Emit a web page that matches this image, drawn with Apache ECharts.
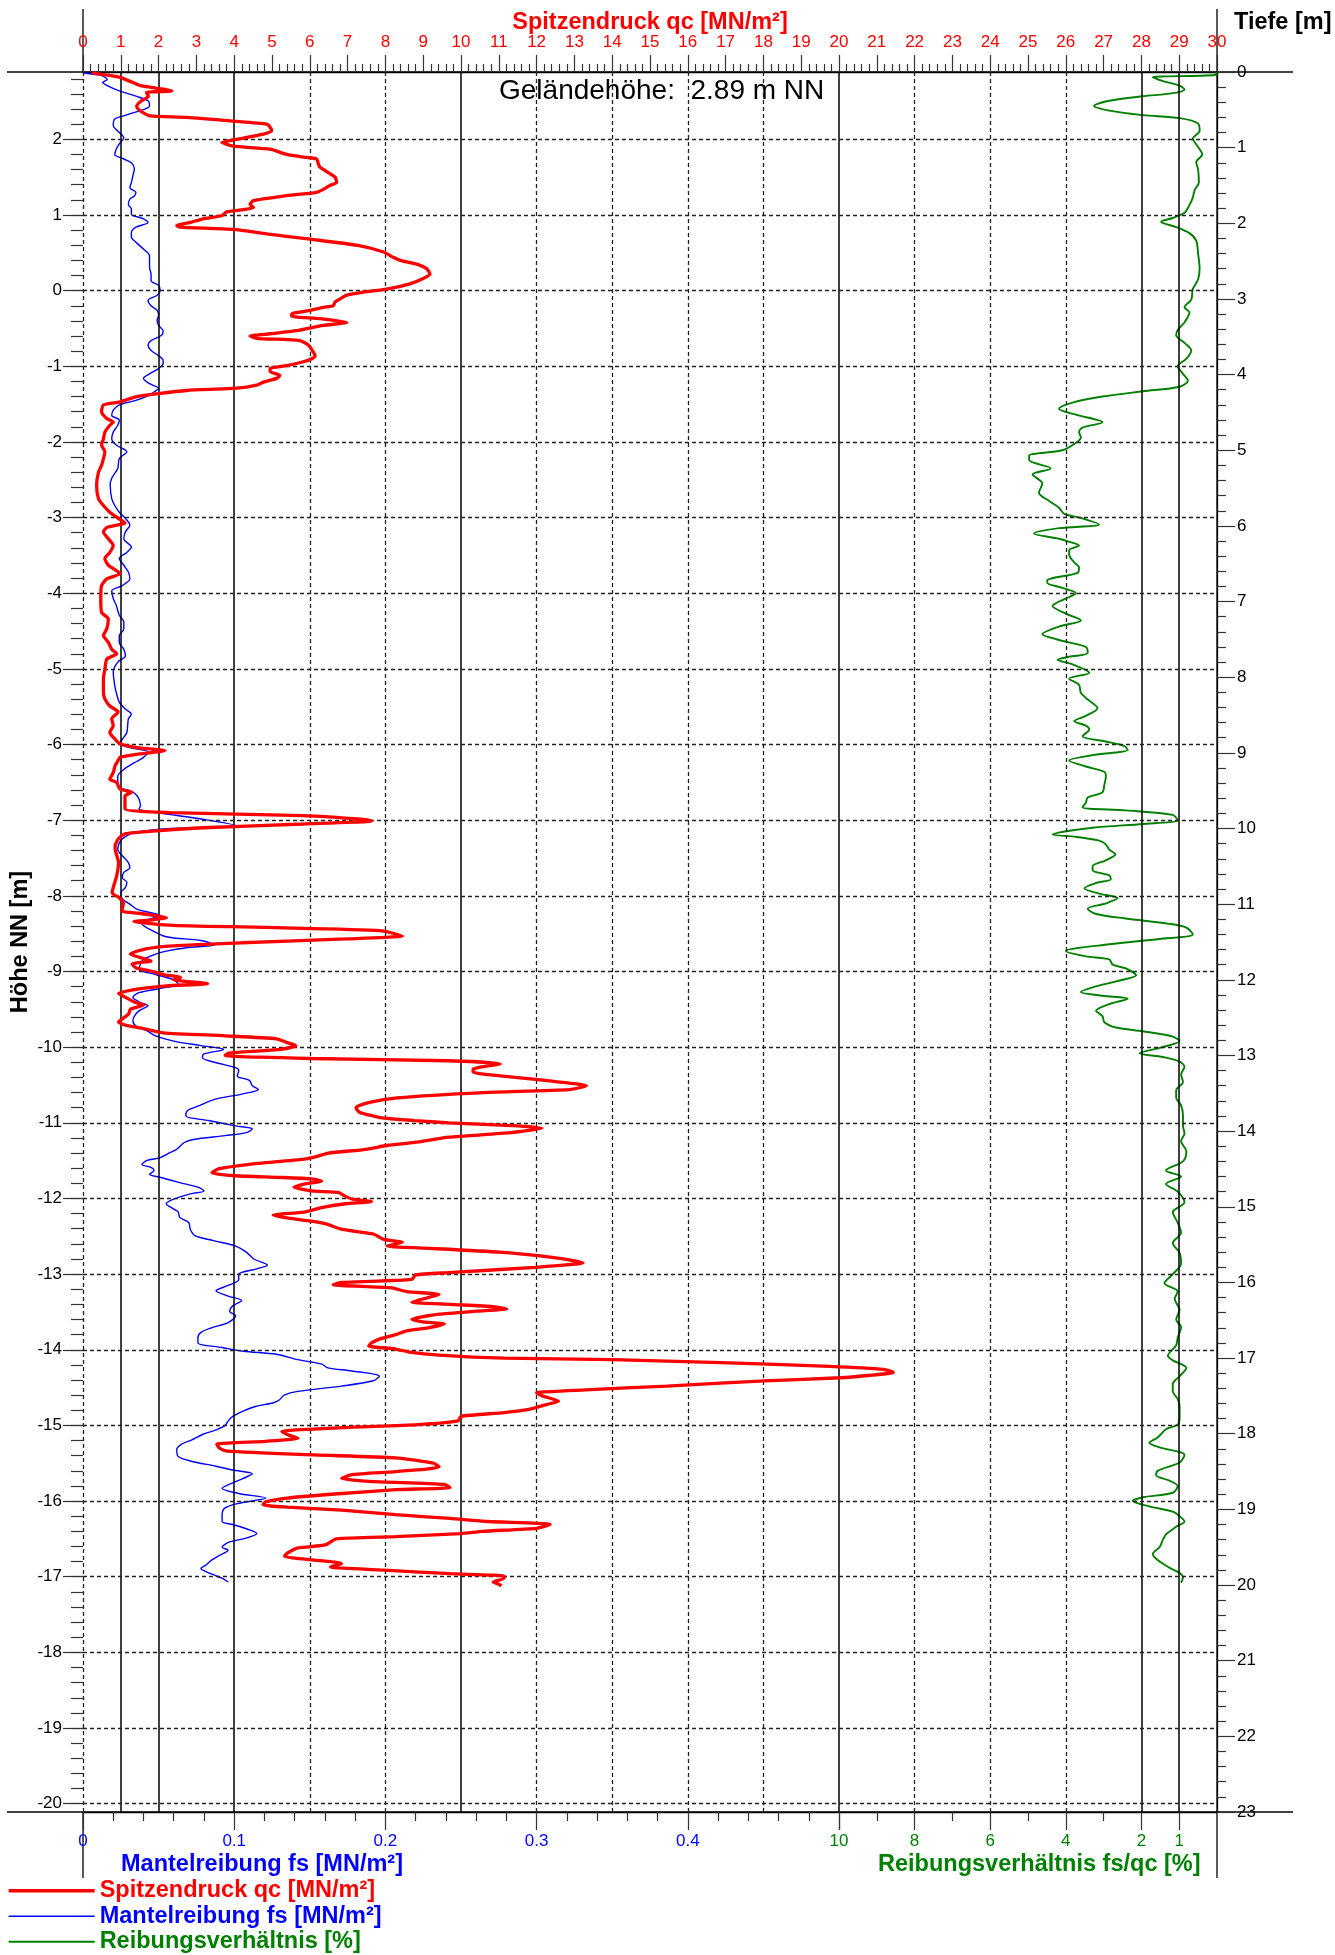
<!DOCTYPE html>
<html><head><meta charset="utf-8">
<script src="https://cdn.jsdelivr.net/npm/echarts@6/dist/echarts.min.js"></script>
<style>html,body{margin:0;padding:0;background:#fff}#c{width:1335px;height:1955px}</style>
</head><body><div id="c"></div>
<script>
const FONT = 'Liberation Sans, Arial, sans-serif';
const gelaendehoehe = 2.89;
const maxTiefe = 23;
const hoeheTicks = [2,1,0,-1,-2,-3,-4,-5,-6,-7,-8,-9,-10,-11,-12,-13,-14,-15,-16,-17,-18,-19,-20];
const fsMajorTicks = [0,0.1,0.2,0.3,0.4,0.5];
const fsLabels = [0,0.1,0.2,0.3,0.4];
const rfMajorTicks = [10,8,6,4,2,1];
const rfMinorTicks = [9,7,5,3];
const solidQcLines = [1,2,4,10,20,28,29];
const dashedQcLines = [0,6,8,12,14,16,18,22,24,26];

const qcDepth = [0.01,0.03,0.07,0.16,0.18,0.25,0.27,0.32,0.38,0.45,0.49,0.54,0.58,0.60,0.65,0.69,0.73,0.78,0.82,0.89,0.93,0.98,1.02,1.09,1.13,1.15,1.22,1.26,1.33,1.39,1.46,1.50,1.55,1.59,1.64,1.70,1.75,1.79,1.82,1.85,1.90,1.94,1.99,2.03,2.05,2.08,2.14,2.21,2.29,2.38,2.45,2.49,2.54,2.60,2.67,2.73,2.80,2.87,2.91,2.95,3.00,3.04,3.09,3.11,3.15,3.20,3.23,3.26,3.31,3.35,3.42,3.46,3.49,3.52,3.55,3.61,3.70,3.75,3.79,3.83,3.88,3.92,3.96,4.01,4.05,4.10,4.14,4.18,4.21,4.25,4.29,4.36,4.40,4.49,
4.58,4.63,4.67,4.76,4.85,4.93,5.02,5.11,5.20,5.29,5.46,5.64,5.73,5.82,5.90,5.96,6.02,6.08,6.17,6.26,6.35,6.43,6.52,6.63,6.70,6.79,6.96,7.14,7.23,7.36,7.45,7.54,7.63,7.69,7.76,7.89,8.02,8.20,8.29,8.38,8.46,8.55,8.64,8.73,8.82,8.88,8.93,8.97,9.02,9.06,9.10,9.17,9.26,9.35,9.39,9.48,9.52,9.57,9.74,9.79,9.83,9.88,9.90,9.94,9.99,10.03,10.07,10.14,10.23,
10.27,10.45,10.63,10.78,10.85,10.91,10.98,11.09,11.12,11.15,11.18,11.21,11.23,11.28,11.31,11.35,11.42,11.46,11.51,11.55,11.59,11.66,11.70,11.75,11.79,11.84,11.88,11.93,11.97,12.00,12.05,12.08,12.12,12.18,12.23,12.30,12.33,12.39,12.45,12.52,12.56,12.61,12.65,12.70,12.74,12.78,12.83,12.87,12.92,12.94,12.97,13.00,13.04,13.07,13.11,13.18,13.22,13.27,13.33,13.40,13.45,13.49,13.56,13.62,13.69,13.75,13.82,13.86,13.89,13.93,13.96,14.02,14.08,14.15,14.19,14.24,14.29,14.33,14.37,14.44,14.50,14.55,14.59,14.61,14.63,14.66,14.70,14.74,14.79,14.81,14.85,14.90,14.93,14.96,15.01,15.07,15.11,15.14,15.19,15.23,15.30,15.36,15.43,15.47,15.52,15.54,15.60,15.67,15.74,15.80,15.87,15.90,
15.96,16.00,16.03,16.07,16.12,16.16,16.20,16.26,16.29,16.32,16.35,16.38,16.42,16.49,16.52,16.55,16.60,16.64,16.69,16.75,16.80,16.84,16.88,16.92,16.96,17.00,17.02,17.06,17.11,17.15,17.19,17.23,17.26,17.30,17.37,17.42,17.46,17.50,17.57,17.61,17.67,17.72,17.77,17.83,17.88,17.92,17.97,18.01,18.06,18.10,18.14,18.19,18.23,18.28,18.32,18.39,18.44,18.50,18.54,18.59,18.63,18.67,18.71,18.74,18.79,18.85,18.90,18.94,18.97,19.01,19.07,19.12,19.16,19.20,19.25,19.29,19.32,19.36,19.39,19.47,19.51,19.58,19.62,19.67,19.70,19.72,19.76,19.80,19.85,19.88,19.91,19.96,19.99,20.01];
const qcValue = [0.23,0.49,0.98,1.42,1.51,2.35,1.68,1.73,1.55,1.42,1.46,1.60,1.77,2.74,3.98,4.86,4.95,4.99,4.77,4.07,3.67,3.98,4.95,5.39,5.92,6.18,6.23,6.27,6.49,6.67,6.71,6.53,6.36,6.18,5.30,4.51,4.42,4.51,4.24,3.80,3.67,3.18,2.83,2.48,2.57,3.98,4.86,6.01,7.24,7.95,8.21,8.39,8.83,9.09,9.18,9.00,8.65,8.03,7.42,6.98,6.80,6.67,6.62,6.36,6.01,5.52,5.52,6.27,6.98,6.36,5.65,4.95,4.42,4.59,5.74,5.96,6.09,6.14,6.05,5.83,5.39,4.95,4.95,5.21,5.12,4.77,4.59,4.07,2.74,1.99,1.42,0.98,0.54,0.49,
0.63,0.80,0.71,0.58,0.54,0.49,0.58,0.54,0.49,0.41,0.36,0.41,0.54,0.71,0.93,1.11,0.63,0.54,0.67,0.80,0.71,0.58,0.67,0.98,0.63,0.49,0.47,0.49,0.67,0.63,0.54,0.67,0.76,0.89,0.63,0.58,0.54,0.54,0.58,0.71,0.93,0.76,0.80,0.71,0.85,0.98,1.42,2.17,1.42,0.98,0.93,0.85,0.80,0.71,0.89,0.98,1.29,1.11,1.11,2.30,5.83,7.42,7.64,5.83,3.18,1.95,1.11,0.93,0.85,
0.85,0.94,0.89,0.80,0.77,0.94,1.07,1.03,1.48,1.89,2.21,1.76,1.35,2.39,5.12,7.86,8.45,6.95,4.21,2.39,1.66,1.25,1.48,1.80,1.30,1.39,1.76,2.12,2.58,2.39,3.30,2.21,1.48,0.94,1.12,1.39,1.62,1.25,1.21,1.03,0.94,1.21,1.66,2.12,3.76,5.12,5.40,5.63,5.22,4.67,3.85,3.76,6.04,9.68,11.04,10.32,10.32,11.04,12.23,13.32,12.87,10.59,8.31,7.58,7.22,7.31,7.86,8.77,9.68,11.50,12.14,11.32,9.68,8.77,8.04,7.49,6.49,6.22,5.85,4.40,3.58,3.41,4.03,5.12,6.04,6.31,5.85,5.58,6.04,6.76,6.90,7.13,7.63,6.95,6.31,5.85,5.03,5.31,6.04,6.45,6.86,7.68,7.95,8.45,8.04,8.77,11.04,12.41,13.23,11.96,9.68,8.80,
8.70,6.84,6.62,8.13,8.56,9.42,9.13,8.70,9.71,10.85,11.21,10.42,9.42,8.70,8.99,9.56,9.13,8.56,8.27,7.84,7.63,7.56,8.27,8.63,9.42,11.14,14.01,16.88,19.75,21.18,21.44,20.76,20.04,18.03,15.45,13.29,12.00,12.15,12.58,12.29,11.86,11.14,10.00,9.92,8.85,6.84,5.26,5.40,5.69,4.83,3.54,3.61,3.82,6.12,8.27,9.28,9.42,8.27,7.12,6.84,7.56,9.56,9.71,8.27,6.84,5.40,4.83,4.76,5.40,6.84,8.27,9.71,10.71,12.36,12.00,10.57,10.00,8.27,6.70,6.41,5.69,5.40,5.33,6.12,6.70,6.84,6.55,7.84,9.71,11.14,11.14,10.85,11.00,11.07];

const fsDepth = [0.01,0.03,0.05,0.10,0.14,0.18,0.25,0.32,0.38,0.45,0.49,0.54,0.58,0.62,0.71,0.78,0.87,0.95,1.02,1.09,1.15,1.20,1.28,1.37,1.46,1.53,1.59,1.64,1.68,1.75,1.81,1.88,1.94,1.99,2.05,2.12,2.18,2.25,2.34,2.43,2.58,2.67,2.76,2.82,2.89,2.95,3.02,3.09,3.15,3.22,3.28,3.35,3.42,3.48,3.55,3.61,3.68,3.75,3.81,3.85,3.92,3.99,4.05,4.12,4.18,4.23,4.27,4.34,4.40,4.47,4.54,4.60,4.67,4.76,4.85,4.93,5.02,5.11,5.24,5.37,5.46,5.64,5.73,5.82,5.90,5.99,6.08,6.17,6.28,6.35,6.43,6.52,6.61,6.70,6.79,6.86,6.96,7.05,7.18,7.27,7.36,7.45,7.54,7.63,7.72,7.80,7.93,8.11,8.20,8.33,8.42,8.49,8.55,8.73,8.82,8.88,8.93,8.99,9.06,9.13,9.22,9.31,9.39,9.46,9.50,9.55,9.61,9.70,9.74,9.79,9.88,9.96,10.00,10.05,10.12,10.19,10.28,
10.36,10.45,10.52,10.58,10.65,10.71,10.78,10.85,10.93,11.00,11.07,11.11,11.15,11.21,11.26,11.33,11.43,11.48,11.54,11.57,11.62,11.66,11.73,11.79,11.86,11.93,12.00,12.06,12.10,12.17,12.23,12.30,12.34,12.41,12.48,12.54,12.61,12.67,12.74,12.81,12.87,12.92,12.98,13.03,13.09,13.16,13.20,13.27,13.33,13.40,13.45,13.51,13.58,13.67,13.73,13.80,13.86,13.93,13.97,14.02,14.06,14.11,14.15,14.24,14.30,14.35,14.39,14.44,14.48,14.52,14.57,14.61,14.68,14.74,14.79,14.83,14.90,14.96,15.03,15.07,15.14,15.21,15.30,15.38,15.45,15.52,15.60,15.69,15.77,15.82,15.89,
15.96,16.04,16.11,16.18,16.24,16.31,16.38,16.44,16.53,16.60,16.66,16.73,16.80,16.86,16.91,16.95,17.02,17.08,17.13,17.17,17.24,17.30,17.37,17.44,17.49,17.55,17.59,17.64,17.70,17.77,17.83,17.89,17.95,18.01,18.08,18.14,18.21,18.30,18.36,18.43,18.48,18.53,18.59,18.65,18.72,18.79,18.85,18.92,18.98,19.07,19.16,19.20,19.27,19.32,19.39,19.43,19.50,19.54,19.61,19.67,19.74,19.78,19.82,19.87,19.91,19.96];
const fsValue = [0.000,0.007,0.013,0.016,0.013,0.016,0.024,0.035,0.043,0.044,0.041,0.033,0.027,0.021,0.020,0.023,0.027,0.024,0.022,0.021,0.027,0.032,0.034,0.033,0.032,0.031,0.035,0.034,0.031,0.030,0.032,0.032,0.040,0.043,0.035,0.032,0.032,0.035,0.040,0.044,0.044,0.045,0.045,0.050,0.051,0.049,0.043,0.045,0.049,0.050,0.049,0.050,0.053,0.052,0.045,0.043,0.045,0.050,0.053,0.053,0.050,0.044,0.040,0.044,0.050,0.047,0.044,0.035,0.024,0.020,0.019,0.024,0.023,0.020,0.019,0.022,0.029,0.024,0.023,0.019,0.018,0.019,0.021,0.024,0.028,0.031,0.028,0.027,0.032,0.029,0.024,0.027,0.030,0.031,0.026,0.019,0.020,0.022,0.024,0.027,0.027,0.024,0.024,0.027,0.028,0.023,0.020,0.021,0.022,0.024,0.028,0.032,0.030,0.029,0.026,0.024,0.031,0.043,0.040,0.034,0.027,0.023,0.023,0.024,0.031,0.035,0.037,0.038,0.037,0.049,0.080,0.101,0.058,0.035,0.027,0.024,0.023,
0.026,0.030,0.031,0.027,0.026,0.029,0.028,0.025,0.026,0.031,0.036,0.044,0.051,0.042,0.039,0.044,0.055,0.078,0.087,0.071,0.055,0.048,0.040,0.038,0.037,0.048,0.060,0.063,0.055,0.037,0.033,0.038,0.043,0.037,0.034,0.033,0.035,0.042,0.048,0.060,0.078,0.093,0.080,0.079,0.087,0.101,0.103,0.102,0.110,0.112,0.116,0.105,0.087,0.076,0.069,0.068,0.083,0.101,0.112,0.108,0.094,0.073,0.067,0.062,0.056,0.051,0.042,0.039,0.045,0.047,0.044,0.051,0.064,0.076,0.080,0.071,0.060,0.055,0.060,0.063,0.064,0.070,0.071,0.074,0.087,0.101,0.108,0.113,0.122,0.115,0.103,
0.103,0.096,0.088,0.096,0.105,0.099,0.097,0.101,0.096,0.085,0.078,0.076,0.076,0.092,0.106,0.128,0.142,0.158,0.162,0.178,0.196,0.192,0.171,0.142,0.133,0.130,0.126,0.114,0.106,0.099,0.096,0.094,0.088,0.079,0.072,0.065,0.062,0.063,0.071,0.088,0.099,0.112,0.106,0.099,0.092,0.103,0.121,0.103,0.094,0.092,0.092,0.099,0.110,0.115,0.106,0.097,0.092,0.096,0.090,0.085,0.081,0.078,0.081,0.087,0.092,0.096];

const rfDepth = [0.00,0.04,0.07,0.12,0.18,0.23,0.28,0.32,0.38,0.45,0.51,0.57,0.61,0.68,0.78,0.88,0.99,1.09,1.19,1.29,1.46,1.56,1.66,1.76,1.86,1.93,1.98,2.05,2.13,2.23,2.40,2.60,2.74,2.87,3.01,3.11,3.18,3.31,3.41,3.48,3.58,3.68,3.79,3.89,3.99,4.08,4.16,4.22,4.29,4.37,4.45,4.53,4.63,4.70,4.76,4.83,4.90,5.00,5.07,5.13,5.24,5.32,5.44,5.56,5.67,5.76,5.84,5.90,5.98,6.03,6.10,6.17,6.21,6.26,6.32,6.38,6.48,6.55,6.62,6.72,6.75,6.82,6.89,6.96,7.06,7.16,7.25,7.33,7.43,7.53,7.60,7.68,7.73,7.77,7.83,7.94,8.02,8.10,8.21,8.31,8.41,8.51,8.58,8.64,8.69,8.78,8.85,8.91,8.96,9.03,9.10,9.18,9.25,9.32,9.42,9.52,9.59,9.66,9.72,9.76,9.82,9.89,9.94,9.99,10.08,
10.11,10.16,10.21,10.28,10.34,10.42,10.50,10.55,10.62,10.67,10.72,10.79,10.86,10.92,10.99,11.06,11.13,11.19,11.26,11.31,11.40,11.46,11.53,11.62,11.69,11.73,11.80,11.85,11.94,12.02,12.10,12.16,12.21,12.25,12.32,12.41,12.48,12.56,12.63,12.68,12.75,12.81,12.90,12.97,13.02,13.08,13.15,13.25,13.35,13.46,13.56,13.66,13.79,13.93,14.03,14.13,14.27,14.40,14.52,14.60,14.70,14.80,14.94,15.07,15.21,15.34,15.48,15.61,15.75,15.89,16.01,16.12,16.22,16.36,16.49,16.59,16.73,16.83,16.97,17.03,17.13,17.24,17.34,17.44,17.54,17.64,17.78,17.88,17.94,18.05,18.12,18.18,18.28,18.38,18.49,18.55,18.62,18.69,18.78,18.84,18.89,18.96,19.03,19.09,19.16,19.23,19.33,19.40,19.50,19.59,19.67,19.77,19.84,19.90,19.97];
const rfValue = [0.02,0.05,1.70,1.43,0.99,0.86,1.17,1.96,2.85,3.25,2.85,1.96,0.99,0.50,0.46,0.64,0.50,0.39,0.55,0.50,0.48,0.59,0.64,0.73,0.86,1.17,1.48,1.08,0.73,0.55,0.50,0.46,0.50,0.64,0.68,0.86,0.73,0.86,1.04,1.08,0.86,0.68,0.81,1.04,0.90,0.77,0.99,1.96,3.03,3.82,4.18,3.73,3.03,3.56,3.65,3.60,3.73,4.09,4.97,4.97,4.40,4.88,4.62,4.71,4.44,4.18,4.04,3.56,3.12,4.18,4.84,4.18,3.91,3.65,3.91,3.91,3.78,3.65,3.69,4.49,4.49,4.09,3.73,4.00,4.35,4.00,3.60,4.18,4.62,4.00,3.47,3.42,3.91,4.22,3.82,3.38,3.91,3.65,3.60,3.38,3.16,3.47,3.78,3.47,3.38,3.56,2.94,2.45,2.36,3.29,3.91,3.47,2.98,2.94,2.98,3.03,3.42,3.47,3.56,2.41,1.17,1.04,1.96,3.29,4.35,
3.73,3.12,2.94,2.85,2.69,2.94,3.29,3.29,2.85,2.81,3.20,3.51,3.12,2.63,2.94,3.42,3.20,2.41,1.26,0.81,0.64,1.52,2.85,4.00,3.47,2.85,2.76,2.41,2.14,2.67,3.29,3.60,3.03,2.36,2.85,3.20,3.03,2.98,2.67,1.96,1.17,0.99,1.52,2.05,1.43,0.99,0.86,0.95,0.90,1.08,1.08,0.95,0.90,0.90,0.86,0.95,0.81,0.90,1.35,0.95,1.35,1.04,0.86,1.17,1.04,0.95,1.17,0.99,0.95,1.17,1.39,1.04,1.12,0.99,1.08,0.95,1.04,1.08,1.30,1.17,0.81,0.99,1.17,1.17,1.04,0.99,0.99,1.04,1.35,1.57,1.79,1.52,0.86,0.99,1.57,1.61,1.26,1.04,1.17,1.96,2.23,1.79,1.17,0.99,0.86,1.08,1.35,1.43,1.52,1.70,1.57,1.26,0.99,0.90,0.95];

function pairs(vals, depths){ return vals.map((v,i)=>[v, depths[i]]); }

// tick helpers (positions only)
const hoeheMinor = [];
for (let k = -100; k <= 14; k++) hoeheMinor.push(Math.round(k*20)/100);
const fsMinor = [];
for (let k = 1; k <= 24; k++) if (k % 5 !== 0) fsMinor.push(Math.round(k*2)/100);

const gridLineData = [];
solidQcLines.forEach(v => gridLineData.push({xAxis: v, lineStyle:{type:'solid', color:'#000', width:1.5}}));
dashedQcLines.forEach(v => gridLineData.push({xAxis: v, lineStyle:{type:[4,3], color:'#222', width:1.3}}));
hoeheTicks.forEach(h => gridLineData.push({yAxis: Math.round((gelaendehoehe - h)*100)/100, lineStyle:{type:[4,3], color:'#222', width:1.3}}));

const noSplit = {show:false};
const blk = {color:'#000', width:1.3};
const tickStyle = {color:'#333', width:1.2};
const TL = 17;   // tick label font size
const BF = 23.5; // bold title font size
const RED = '#ff0000', BLUE = '#0000ff', GREEN = '#008000';

const chart = echarts.init(document.getElementById('c'), null, {renderer:'canvas'});
chart.setOption({
  animation:false,
  backgroundColor:'#fff',
  textStyle:{fontFamily:FONT},
  grid:{left:83, top:72, width:1134, height:1740, containLabel:false, outerBoundsMode:'none'},
  xAxis:[
    {type:'value', position:'top', min:0, max:30, interval:1,
     name:'Spitzendruck qc [MN/m²]', nameLocation:'middle', nameGap:37, nameMoveOverlap:false,
     nameTextStyle:{color:RED, fontWeight:'bold', fontSize:BF, fontFamily:FONT},
     axisLine:{show:true, onZero:false, lineStyle:blk},
     axisTick:{show:true, length:17, lineStyle:tickStyle},
     minorTick:{show:true, splitNumber:5, length:8, lineStyle:tickStyle},
     axisLabel:{color:RED, fontSize:TL, margin:21, fontFamily:FONT},
     splitLine:noSplit, minorSplitLine:{show:false}},
    {type:'value', position:'bottom', min:0, max:0.75,
     axisLine:{show:true, onZero:false, lineStyle:blk},
     axisTick:{show:true, length:18, customValues:fsMajorTicks, lineStyle:tickStyle},
     axisLabel:{color:BLUE, fontSize:TL, margin:21, customValues:fsLabels, fontFamily:FONT},
     splitLine:noSplit},
    {type:'value', position:'bottom', min:0, max:0.75,
     axisLine:{show:false, onZero:false},
     axisTick:{show:true, length:9, customValues:fsMinor, lineStyle:tickStyle},
     axisLabel:{show:false}, splitLine:noSplit},
    {type:'value', position:'bottom', min:0, max:30, inverse:true,
     axisLine:{show:false, onZero:false},
     axisTick:{show:true, length:18, customValues:rfMajorTicks, lineStyle:tickStyle},
     axisLabel:{color:GREEN, fontSize:TL, margin:21, customValues:rfMajorTicks, fontFamily:FONT},
     splitLine:noSplit},
    {type:'value', position:'bottom', min:0, max:30, inverse:true,
     axisLine:{show:false, onZero:false},
     axisTick:{show:true, length:9, customValues:rfMinorTicks, lineStyle:tickStyle},
     axisLabel:{show:false}, splitLine:noSplit}
  ],
  yAxis:[
    {type:'value', position:'right', min:0, max:maxTiefe, interval:1, inverse:true,
     axisLine:{show:true, onZero:false, lineStyle:blk},
     axisTick:{show:true, length:18, lineStyle:tickStyle},
     minorTick:{show:true, splitNumber:5, length:9, lineStyle:tickStyle},
     axisLabel:{color:'#000', fontSize:TL, margin:20, fontFamily:FONT},
     splitLine:noSplit, minorSplitLine:{show:false}},
    {type:'value', position:'left', min:Math.round((gelaendehoehe-maxTiefe)*100)/100, max:gelaendehoehe,
     name:'Höhe NN [m]', nameLocation:'middle', nameRotate:90, nameGap:50, nameMoveOverlap:false,
     nameTextStyle:{color:'#000', fontWeight:'bold', fontSize:BF, fontFamily:FONT},
     axisLine:{show:false, onZero:false},
     axisTick:{show:true, length:20, customValues:hoeheTicks, lineStyle:tickStyle},
     axisLabel:{color:'#000', fontSize:TL, margin:21, customValues:hoeheTicks, fontFamily:FONT},
     splitLine:noSplit},
    {type:'value', position:'left', min:Math.round((gelaendehoehe-maxTiefe)*100)/100, max:gelaendehoehe,
     axisLine:{show:false, onZero:false},
     axisTick:{show:true, length:12, customValues:hoeheMinor, lineStyle:tickStyle},
     axisLabel:{show:false}, splitLine:noSplit}
  ],
  legend:{orient:'vertical', left:7, top:1878, padding:0, itemWidth:86, itemHeight:14, itemGap:0,
    itemStyle:{opacity:0},
    textStyle:{fontSize:BF, fontWeight:'bold', lineHeight:25.5, fontFamily:FONT},
    data:[
      {name:'Spitzendruck qc [MN/m²]', textStyle:{color:RED}, lineStyle:{color:RED, width:3.3}},
      {name:'Mantelreibung fs [MN/m²]', textStyle:{color:BLUE}, lineStyle:{color:BLUE, width:1.4}},
      {name:'Reibungsverhältnis [%]', textStyle:{color:GREEN}, lineStyle:{color:GREEN, width:2}}
    ]},
  series:[
    {type:'line', name:'grid', xAxisIndex:0, yAxisIndex:0, data:[], z:1, silent:true,
     markLine:{silent:true, symbol:['none','none'], label:{show:false}, animation:false, data:gridLineData}},
    {type:'line', name:'Reibungsverhältnis [%]', xAxisIndex:3, yAxisIndex:0, data:pairs(rfValue, rfDepth),
     symbol:'none', smooth:0.3, lineStyle:{color:GREEN, width:1.9}, itemStyle:{color:GREEN}, z:3},
    {type:'line', name:'Mantelreibung fs [MN/m²]', xAxisIndex:1, yAxisIndex:0, data:pairs(fsValue, fsDepth),
     symbol:'none', smooth:0.3, lineStyle:{color:BLUE, width:1.4}, itemStyle:{color:BLUE}, z:4},
    {type:'line', name:'Spitzendruck qc [MN/m²]', xAxisIndex:0, yAxisIndex:0, data:pairs(qcValue, qcDepth),
     symbol:'none', smooth:0.2, lineStyle:{color:RED, width:3.3}, itemStyle:{color:RED}, z:5}
  ],
  graphic:[
    {type:'line', silent:true, shape:{x1:7,y1:72,x2:1293,y2:72}, style:{stroke:'#000', lineWidth:1.3}, z:0},
    {type:'line', silent:true, shape:{x1:7,y1:1812,x2:1293,y2:1812}, style:{stroke:'#000', lineWidth:1.3}, z:0},
    {type:'line', silent:true, shape:{x1:83,y1:9,x2:83,y2:72}, style:{stroke:'#000', lineWidth:1.3}},
    {type:'line', silent:true, shape:{x1:83,y1:1812,x2:83,y2:1878}, style:{stroke:'#000', lineWidth:1.3}},
    {type:'line', silent:true, shape:{x1:1217,y1:9,x2:1217,y2:1878}, style:{stroke:'#000', lineWidth:1.3}},
    {type:'text', left:499, top:77, style:{text:'Geländehöhe:  ' + gelaendehoehe.toFixed(2) + ' m NN', fill:'#000', font:'28px ' + FONT}},
    {type:'text', left:1234, top:11, style:{text:'Tiefe [m]', fill:'#000', font:'bold ' + BF + 'px ' + FONT}},
    {type:'text', left:121, top:1853, style:{text:'Mantelreibung fs [MN/m²]', fill:BLUE, font:'bold ' + BF + 'px ' + FONT}},
    {type:'text', left:878, top:1853, style:{text:'Reibungsverhältnis fs/qc [%]', fill:GREEN, font:'bold ' + BF + 'px ' + FONT}}
  ]
});
</script></body></html>
